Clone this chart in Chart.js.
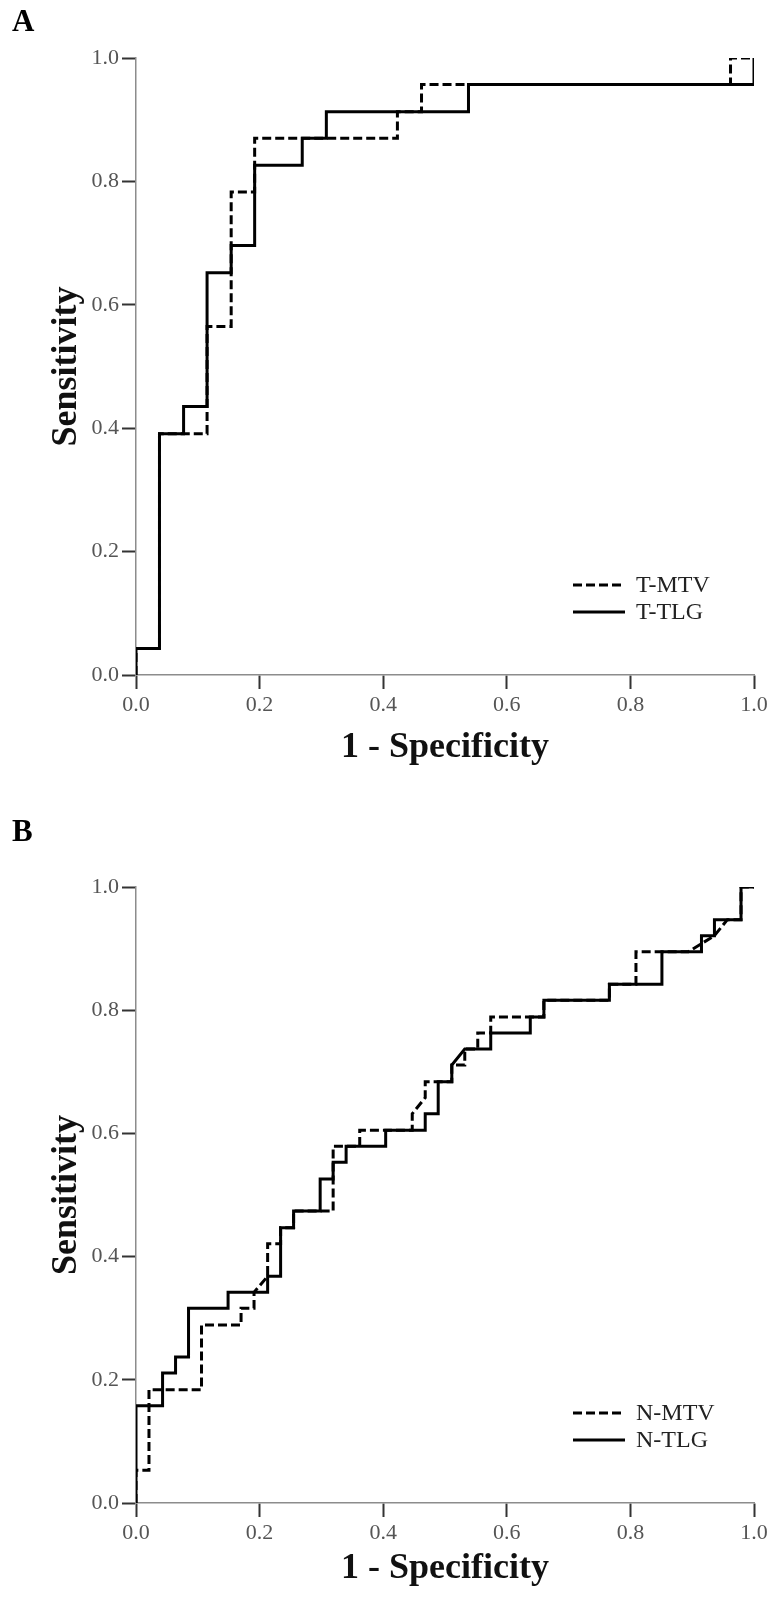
<!DOCTYPE html>
<html>
<head>
<meta charset="utf-8">
<title>ROC curves</title>
<script src="https://cdn.jsdelivr.net/npm/chart.js@4.4.1/dist/chart.umd.min.js"></script>
<style>
  body { margin: 0; background: #fff; }
  canvas { display: block; }
</style>
</head>
<body>
<canvas id="roc-a" width="773" height="800"></canvas>
<canvas id="roc-b" width="773" height="799"></canvas>
<script>
// axis ticks shared by both panels
let tickValues = [0, 0.2, 0.4, 0.6, 0.8, 1.0];

// panel A: primary tumour
let namesA = ['T-MTV', 'T-TLG'];
let tMtvX = [0, 0, 0.038, 0.038, 0.115, 0.115, 0.154, 0.154, 0.192, 0.192, 0.423, 0.423, 0.462, 0.462, 0.962, 0.962, 1];
let tMtvY = [0, 0.043, 0.043, 0.391, 0.391, 0.565, 0.565, 0.783, 0.783, 0.870, 0.870, 0.913, 0.913, 0.957, 0.957, 1, 1];
let tTlgX = [0, 0, 0.038, 0.038, 0.077, 0.077, 0.115, 0.115, 0.154, 0.154, 0.192, 0.192, 0.269, 0.269, 0.308, 0.308, 0.538, 0.538, 1, 1];
let tTlgY = [0, 0.043, 0.043, 0.391, 0.391, 0.435, 0.435, 0.652, 0.652, 0.696, 0.696, 0.826, 0.826, 0.870, 0.870, 0.913, 0.913, 0.957, 0.957, 1];

// panel B: nodes
let namesB = ['N-MTV', 'N-TLG'];
let nMtvX = [0, 0, 0.021, 0.021, 0.106, 0.106, 0.170, 0.170, 0.191, 0.191, 0.213, 0.213, 0.234, 0.234, 0.255, 0.255,
             0.319, 0.319, 0.362, 0.362, 0.447, 0.447, 0.468, 0.468, 0.511, 0.511, 0.532, 0.532, 0.553, 0.553,
             0.574, 0.574, 0.660, 0.660, 0.766, 0.766, 0.809, 0.809, 0.894, 0.915, 0.936, 0.957, 0.979, 0.979, 1];
let nMtvY = [0, 0.053, 0.053, 0.184, 0.184, 0.289, 0.289, 0.316, 0.316, 0.342, 0.368, 0.421, 0.421, 0.447, 0.447, 0.474,
             0.474, 0.579, 0.579, 0.605, 0.605, 0.632, 0.658, 0.684, 0.684, 0.711, 0.711, 0.737, 0.737, 0.763,
             0.763, 0.789, 0.789, 0.816, 0.816, 0.842, 0.842, 0.895, 0.895, 0.908, 0.921, 0.947, 0.947, 1, 1];
let nTlgX = [0, 0, 0.043, 0.043, 0.064, 0.064, 0.085, 0.085, 0.149, 0.149, 0.213, 0.213, 0.234, 0.234, 0.255, 0.255,
             0.298, 0.298, 0.319, 0.319, 0.340, 0.340, 0.404, 0.404, 0.468, 0.468, 0.489, 0.489, 0.511, 0.511,
             0.532, 0.574, 0.574, 0.638, 0.638, 0.660, 0.660, 0.766, 0.766, 0.851, 0.851, 0.915, 0.915, 0.936,
             0.936, 0.979, 0.979, 1];
let nTlgY = [0, 0.158, 0.158, 0.211, 0.211, 0.237, 0.237, 0.316, 0.316, 0.342, 0.342, 0.368, 0.368, 0.447, 0.447, 0.474,
             0.474, 0.526, 0.526, 0.553, 0.553, 0.579, 0.579, 0.605, 0.605, 0.632, 0.632, 0.684, 0.684, 0.711,
             0.737, 0.737, 0.763, 0.763, 0.789, 0.789, 0.816, 0.816, 0.842, 0.842, 0.895, 0.895, 0.921, 0.921,
             0.947, 0.947, 1, 1];

const SERIF = "'Liberation Serif', 'Times New Roman', serif";

function toPoints(xs, ys) {
  return xs.map((x, i) => ({ x: x, y: ys[i] }));
}

// panel letter + the small line legend inside the plot
const panelDecor = {
  id: 'panelDecor',
  afterDraw(chart, args, opts) {
    const ctx = chart.ctx;
    ctx.save();
    ctx.fillStyle = '#000';
    ctx.font = 'bold 31px ' + SERIF;
    ctx.textBaseline = 'middle';
    ctx.textAlign = 'left';
    ctx.fillText(opts.letter, 12, opts.letterY);

    ctx.font = '24px ' + SERIF;
    ctx.fillStyle = '#222';
    chart.data.datasets.forEach((ds, i) => {
      const y = opts.rows[i];
      ctx.strokeStyle = '#000';
      ctx.lineWidth = 3;
      ctx.setLineDash(ds.borderDash || []);
      ctx.beginPath();
      ctx.moveTo(573, y);
      ctx.lineTo(625, y);
      ctx.stroke();
      ctx.setLineDash([]);
      ctx.fillText(ds.label, 636, y + 1);
    });
    ctx.restore();
  }
};

function makeRoc(id, letter, names, mtvPts, tlgPts, lay) {
  let ctx = document.getElementById(id).getContext('2d');
  return new Chart(ctx, {
    type: 'line',
    data: {
      datasets: [
        {
          label: names[0],
          data: mtvPts,
          borderColor: '#000',
          borderWidth: 3,
          borderDash: [9, 4],
          pointRadius: 0,
          tension: 0,
          order: 1
        },
        {
          label: names[1],
          data: tlgPts,
          borderColor: '#000',
          borderWidth: 3,
          pointRadius: 0,
          tension: 0,
          order: 0
        }
      ]
    },
    options: {
      responsive: false,
      animation: false,
      devicePixelRatio: 1,
      layout: { padding: { top: lay.top, right: 19, left: 0, bottom: 0 } },
      plugins: {
        legend: { display: false },
        tooltip: { enabled: false },
        panelDecor: { letter: letter, letterY: lay.letterY, rows: lay.rows }
      },
      scales: {
        x: {
          type: 'linear',
          min: 0,
          max: 1,
          afterFit: (s) => { s.height = lay.xAxisH; },
          afterBuildTicks: (s) => { s.ticks = tickValues.map(v => ({ value: v })); },
          ticks: {
            callback: (v) => v.toFixed(1),
            font: { family: SERIF, size: 22 },
            color: '#555',
            padding: 3,
            maxRotation: 0
          },
          grid: { drawOnChartArea: false, drawTicks: true, tickLength: 14, tickColor: '#333', tickWidth: 2 },
          border: { display: true, color: '#8c8c8c', width: 1.5 },
          title: {
            display: true,
            text: '1 - Specificity',
            font: { family: SERIF, size: 36, weight: 'bold' },
            color: '#111',
            padding: { top: 0, bottom: lay.xTitlePad }
          }
        },
        y: {
          type: 'linear',
          min: 0,
          max: 1,
          afterFit: (s) => { s.width = 136; },
          afterBuildTicks: (s) => { s.ticks = tickValues.map(v => ({ value: v })); },
          ticks: {
            callback: (v) => v.toFixed(1),
            font: { family: SERIF, size: 22 },
            color: '#555',
            padding: 3
          },
          grid: { drawOnChartArea: false, drawTicks: true, tickLength: 14, tickColor: '#333', tickWidth: 2 },
          border: { display: true, color: '#8c8c8c', width: 1.5 },
          title: {
            display: true,
            text: 'Sensitivity',
            font: { family: SERIF, size: 36, weight: 'bold' },
            color: '#111',
            padding: { top: 45, bottom: 0 }
          }
        }
      }
    },
    plugins: [panelDecor]
  });
}

makeRoc('roc-a', 'A', namesA, toPoints(tMtvX, tMtvY), toPoints(tTlgX, tTlgY),
  { top: 58, xAxisH: 125, xTitlePad: 31, letterY: 23, rows: [585, 612] });
makeRoc('roc-b', 'B', namesB, toPoints(nMtvX, nMtvY), toPoints(nTlgX, nTlgY),
  { top: 87, xAxisH: 96, xTitlePad: 9, letterY: 33, rows: [613, 640] });
</script>
</body>
</html>
